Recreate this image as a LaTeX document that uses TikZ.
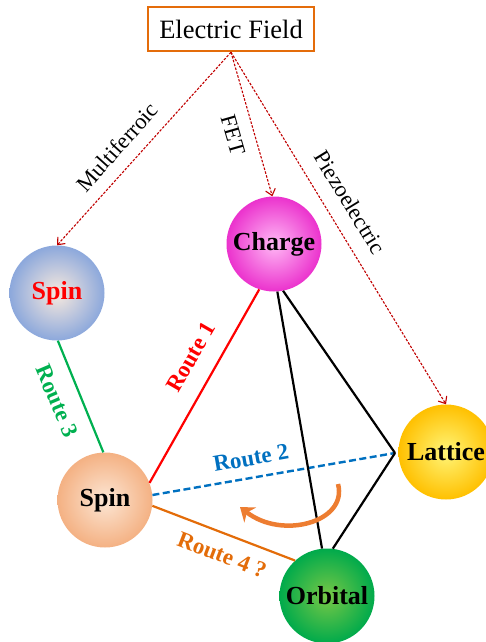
\documentclass[tikz,border=0pt]{standalone}
\usepackage{fontspec}
\setmainfont{Liberation Serif}
\usetikzlibrary{arrows.meta}
\definecolor{efor}{HTML}{E46C0A}
\definecolor{arrred}{HTML}{C00000}
\definecolor{rred}{HTML}{FF0000}
\definecolor{rgreen}{HTML}{00B050}
\definecolor{rblue}{HTML}{0070C0}
\definecolor{rorange}{HTML}{E36C09}
\definecolor{curveor}{HTML}{ED7D31}
\tikzset{
  ball/.style={circle, minimum size=95pt, inner sep=0pt, shade,
    font=\fontsize{26}{28}\selectfont\bfseries},
  farrow/.style={draw=arrred, dash pattern=on 2.5pt off 1.5pt, line width=1.1pt,
    -{Straight Barb[length=6pt,width=10pt]}},
  elabel/.style={font=\fontsize{22.5}{24}\selectfont},
  rlabel/.style={font=\fontsize{23}{25}\selectfont\bfseries},
  blk/.style={draw=black, line width=2.2pt}
}
\begin{document}
\begin{tikzpicture}[x=1pt,y=-1pt]
\useasboundingbox (0,0) rectangle (486,642);

\node[draw=efor, line width=2.4pt, minimum width=166pt, minimum height=44pt,
  fill=white, font=\fontsize{26.5}{28}\selectfont] (ef) at (231,29) {Electric Field};

\node[ball, inner color={rgb,255:red,248;green,234;blue,222}, outer color={rgb,255:red,140;green,168;blue,220}, text=rred] (spinA) at (57,293) {Spin};
\node[ball, inner color={rgb,255:red,255;green,185;blue,245}, outer color={rgb,255:red,235;green,50;blue,205}] (charge) at (274,244) {Charge};
\node[ball, inner color={rgb,255:red,255;green,245;blue,120}, outer color={rgb,255:red,255;green,192;blue,0}] (lattice) at (446,452) {Lattice};
\node[ball, inner color={rgb,255:red,252;green,230;blue,212}, outer color={rgb,255:red,244;green,177;blue,131}] (spinB) at (105,500) {Spin};
\node[ball, inner color={rgb,255:red,120;green,200;blue,70}, outer color={rgb,255:red,0;green,170;blue,75}] (orbital) at (327,596) {Orbital};

\coordinate (J) at (395,453);

% field arrows
\draw[farrow] (ef.south) -- (spinA.north);
\draw[farrow] (ef.south) -- (charge.92);
\draw[farrow] (ef.south) -- (lattice.north);

\node[elabel, rotate=48] (lmf) at (117,147) {Multiferroic};
\node[elabel, rotate=-74] (lfet) at (233,135) {FET};
\node[elabel, rotate=-58.5] (lpz) at (350,202) {Piezoelectric};

% routes
\draw[rgreen, line width=2.2pt] (spinA.271) -- (spinB.92);
\draw[rred, line width=2.2pt] (charge.252) -- (spinB.21);
\draw[rblue, line width=2.4pt, dash pattern=on 7pt off 3.5pt] (spinB.6) -- (J);
\draw[rorange, line width=2.2pt] (spinB.353) -- (orbital.132);

\draw[blk] (charge.274) -- (orbital.96);
\draw[blk] (charge.281) -- (J);
\draw[blk] (J) -- (orbital.83);

\node[rlabel, text=rred, rotate=60] (r1) at (191,357) {Route 1};
\node[rlabel, text=rgreen, rotate=-67] (r3) at (57,401) {Route 3};
\node[rlabel, text=rblue, rotate=10] (r2) at (251,458) {Route 2};
\node[rlabel, text=rorange, rotate=-21] (r4) at (222,555) {Route 4 ?};

% curved arrow
\coordinate (cA) at (338,484);
\coordinate (cB) at (240,507);
\draw[curveor, line width=4.5pt, -{Stealth[length=13pt,width=19pt]}]
  (cA) .. controls (348,522) and (282,540) .. (cB);
\end{tikzpicture}
\end{document}
